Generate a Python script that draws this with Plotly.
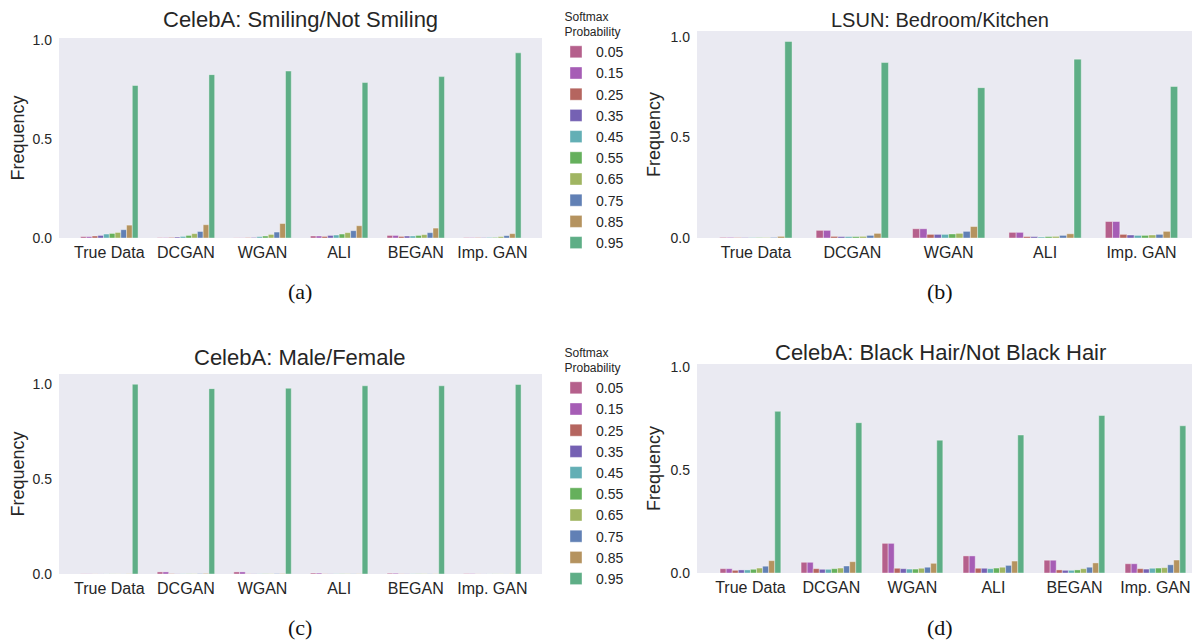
import plotly.graph_objects as go
from plotly.subplots import make_subplots

# ---------------- data ----------------
PROBS = ["0.05", "0.15", "0.25", "0.35", "0.45", "0.55", "0.65", "0.75", "0.85", "0.95"]
COLORS = ["#b5608c", "#a65db5", "#b5655f", "#7561b3", "#63afb5",
          "#65b05c", "#a0b562", "#6180b5", "#b5935f", "#5eae86"]

CATS_CELEBA = ["True Data", "DCGAN", "WGAN", "ALI", "BEGAN", "Imp. GAN"]
CATS_LSUN = ["True Data", "DCGAN", "WGAN", "ALI", "Imp. GAN"]

# (a) CelebA: Smiling/Not Smiling  (one list per model, values per softmax bin)
SMILE_TRUE = [0.007, 0.007, 0.010, 0.013, 0.020, 0.023, 0.028, 0.042, 0.065, 0.770]
SMILE_DCGAN = [0.002, 0.002, 0.003, 0.005, 0.008, 0.013, 0.022, 0.033, 0.067, 0.825]
SMILE_WGAN = [0.001, 0.001, 0.002, 0.003, 0.007, 0.010, 0.018, 0.030, 0.073, 0.843]
SMILE_ALI = [0.010, 0.010, 0.008, 0.013, 0.015, 0.020, 0.027, 0.037, 0.062, 0.785]
SMILE_BEGAN = [0.013, 0.013, 0.008, 0.010, 0.010, 0.013, 0.017, 0.027, 0.050, 0.815]
SMILE_IMPGAN = [0.002, 0.002, 0.002, 0.002, 0.003, 0.003, 0.007, 0.012, 0.022, 0.935]

# (b) LSUN: Bedroom/Kitchen
LSUN_TRUE = [0.003, 0.003, 0.002, 0.002, 0.002, 0.002, 0.002, 0.003, 0.008, 0.978]
LSUN_DCGAN = [0.038, 0.038, 0.008, 0.007, 0.007, 0.007, 0.008, 0.013, 0.023, 0.873]
LSUN_WGAN = [0.046, 0.046, 0.018, 0.018, 0.018, 0.020, 0.023, 0.033, 0.057, 0.748]
LSUN_ALI = [0.028, 0.028, 0.007, 0.007, 0.005, 0.007, 0.008, 0.013, 0.021, 0.890]
LSUN_IMPGAN = [0.082, 0.082, 0.018, 0.015, 0.013, 0.013, 0.015, 0.018, 0.033, 0.754]

# (c) CelebA: Male/Female
MALE_TRUE = [0.001, 0.001, 0.0005, 0.0005, 0.0005, 0.0005, 0.0005, 0.0005, 0.001, 0.998]
MALE_DCGAN = [0.011, 0.011, 0.002, 0.001, 0.001, 0.001, 0.001, 0.002, 0.003, 0.975]
MALE_WGAN = [0.011, 0.011, 0.001, 0.001, 0.001, 0.001, 0.001, 0.002, 0.002, 0.977]
MALE_ALI = [0.005, 0.005, 0.001, 0.001, 0.001, 0.001, 0.001, 0.001, 0.001, 0.990]
MALE_BEGAN = [0.004, 0.004, 0.001, 0.001, 0.001, 0.001, 0.001, 0.001, 0.001, 0.990]
MALE_IMPGAN = [0.002, 0.002, 0.0005, 0.0005, 0.0005, 0.0005, 0.0005, 0.0005, 0.001, 0.997]

# (d) CelebA: Black Hair/Not Black Hair
HAIR_TRUE = [0.021, 0.021, 0.013, 0.015, 0.015, 0.018, 0.024, 0.033, 0.060, 0.785]
HAIR_DCGAN = [0.052, 0.052, 0.021, 0.018, 0.018, 0.021, 0.024, 0.034, 0.055, 0.730]
HAIR_WGAN = [0.144, 0.144, 0.023, 0.021, 0.019, 0.019, 0.023, 0.028, 0.047, 0.645]
HAIR_ALI = [0.083, 0.083, 0.023, 0.023, 0.021, 0.024, 0.028, 0.037, 0.058, 0.670]
HAIR_BEGAN = [0.062, 0.062, 0.015, 0.013, 0.013, 0.015, 0.021, 0.028, 0.049, 0.765]
HAIR_IMPGAN = [0.045, 0.045, 0.021, 0.019, 0.023, 0.024, 0.026, 0.040, 0.063, 0.715]

TITLES = ["CelebA: Smiling/Not Smiling", "LSUN: Bedroom/Kitchen",
          "CelebA: Male/Female", "CelebA: Black Hair/Not Black Hair"]
CAPTIONS = ["(a)", "(b)", "(c)", "(d)"]

panels = [
    (CATS_CELEBA, [SMILE_TRUE, SMILE_DCGAN, SMILE_WGAN, SMILE_ALI, SMILE_BEGAN, SMILE_IMPGAN]),
    (CATS_LSUN, [LSUN_TRUE, LSUN_DCGAN, LSUN_WGAN, LSUN_ALI, LSUN_IMPGAN]),
    (CATS_CELEBA, [MALE_TRUE, MALE_DCGAN, MALE_WGAN, MALE_ALI, MALE_BEGAN, MALE_IMPGAN]),
    (CATS_CELEBA, [HAIR_TRUE, HAIR_DCGAN, HAIR_WGAN, HAIR_ALI, HAIR_BEGAN, HAIR_IMPGAN]),
]

# ---------------- figure ----------------
# the page body has an 8px margin, so the figure is sized to the visible area
OFF = 8
W, H = 1200 - OFF, 640 - OFF
SANS = "Liberation Sans, Arial, sans-serif"
fig = make_subplots(rows=2, cols=2)

legend_for_panel = {0: "legend", 2: "legend2"}
for p, (cats, rows) in enumerate(panels):
    r, c = p // 2 + 1, p % 2 + 1
    for i, prob in enumerate(PROBS):
        vals = [row[i] for row in rows]
        show = p in legend_for_panel
        fig.add_trace(go.Bar(
            x=cats, y=vals, name=prob,
            marker=dict(color=COLORS[i], line=dict(color="rgba(255,255,255,0.55)", width=0.7)),
            showlegend=show,
            legend=legend_for_panel.get(p, "legend"),
        ), row=r, col=c)


def px_x(x):
    return (x - OFF) / W


def px_y(y):
    return 1 - (y - OFF) / H


def xd(a, b):
    return [px_x(a), min(1.0, px_x(b))]


def yd(top, bottom):
    return [px_y(bottom), px_y(top)]


geo = [
    dict(x=xd(59, 542), y=yd(38, 238), xr=[-0.657, 5.648], yr=[0, 1.01]),
    dict(x=xd(697, 1200), y=yd(31, 238), xr=[-0.611, 4.607], yr=[0, 1.03]),
    dict(x=xd(59, 542), y=yd(374, 574), xr=[-0.657, 5.648], yr=[0, 1.052]),
    dict(x=xd(697, 1200), y=yd(364, 573), xr=[-0.66, 5.55], yr=[0, 1.015]),
]

tick_font = dict(family=SANS, size=16, color="#262626")
ytick_font = dict(family=SANS, size=14, color="#262626")
for p, g in enumerate(geo):
    sfx = "" if p == 0 else str(p + 1)
    fig.layout["xaxis" + sfx].update(
        domain=g["x"], range=g["xr"], showgrid=False, zeroline=False, automargin=False,
        showline=False, ticks="", tickfont=tick_font, ticklabelstandoff=3,
    )
    fig.layout["yaxis" + sfx].update(
        domain=g["y"], range=g["yr"], showgrid=False, zeroline=False, automargin=False,
        showline=False, ticks="", tickfont=ytick_font,
        tickvals=[0, 0.5, 1.0], tickformat=".1f", ticklabelstandoff=6,
        title=dict(text="Frequency", font=dict(family=SANS, size=18, color="#262626"),
                   standoff=10 if p % 2 == 0 else 5),
    )

annotations = []
title_pos = [(300, 20), (940, 20), (300, 358), (940, 352)]
title_size = [22, 20, 22, 22]
for t, (x, y), s in zip(TITLES, title_pos, title_size):
    annotations.append(dict(text=t, x=px_x(x), y=px_y(y), xref="paper", yref="paper",
                            xanchor="center", yanchor="middle", showarrow=False,
                            font=dict(family=SANS, size=s, color="#262626")))
cap_pos = [(300, 292), (940, 292), (300, 627), (940, 627)]
for t, (x, y) in zip(CAPTIONS, cap_pos):
    annotations.append(dict(text=t, x=px_x(x), y=px_y(y), xref="paper", yref="paper",
                            xanchor="center", yanchor="middle", showarrow=False,
                            font=dict(family="Liberation Serif, Times New Roman, serif", size=22,
                                      color="#111111")))

leg_common = dict(
    xanchor="left", yanchor="top", bgcolor="rgba(0,0,0,0)",
    font=dict(family=SANS, size=14, color="#262626"),
    title=dict(text="Softmax<br>Probability", side="top center",
               font=dict(family=SANS, size=12, color="#262626")),
    tracegroupgap=0, itemwidth=30,
)

fig.update_layout(
    width=W, height=H, margin=dict(l=0, r=0, t=0, b=0, autoexpand=False),
    paper_bgcolor="white", plot_bgcolor="#EAEAF2",
    barmode="group", bargap=0.25, bargroupgap=0,
    annotations=annotations,
    legend=dict(x=px_x(556), y=px_y(5), **leg_common),
    legend2=dict(x=px_x(556), y=px_y(341), **leg_common),
)

fig.write_html("out.html")
